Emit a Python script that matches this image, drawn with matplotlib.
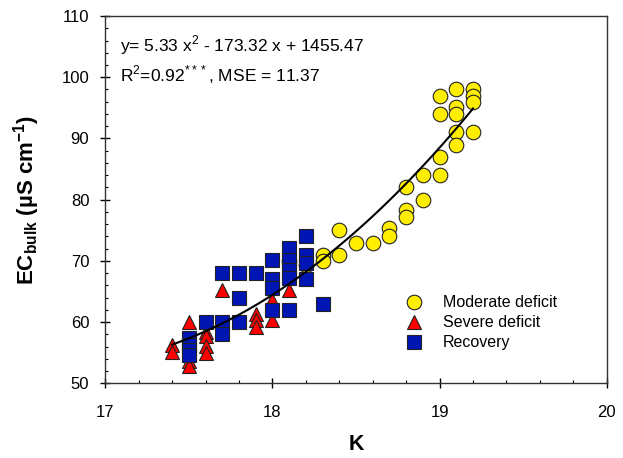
import numpy as np
import matplotlib
matplotlib.use("Agg")
import matplotlib.pyplot as plt
from matplotlib.ticker import MultipleLocator

plt.rcParams['font.family'] = ['Liberation Sans', 'DejaVu Sans']
plt.rcParams['mathtext.fontset'] = 'custom'
plt.rcParams['mathtext.rm'] = 'Liberation Sans'
plt.rcParams['mathtext.bf'] = 'Liberation Sans:bold'

# moderate deficit (yellow circles)
mod_k = [18.1, 18.2, 18.3, 18.3, 18.4, 18.4, 18.5, 18.6, 18.7, 18.7,
         18.8, 18.8, 18.8, 18.9, 18.9, 19.0, 19.0, 19.0, 19.0,
         19.1, 19.1, 19.1, 19.1, 19.1, 19.2, 19.2, 19.2, 19.2]
mod_ec = [70, 69.3, 71, 70, 75, 71, 73, 73, 75.3, 74,
          82, 78.3, 77.1, 84, 80, 97, 94, 87, 84,
          98, 95.2, 94, 91, 89, 98, 97, 96, 91]

# severe deficit (red triangles)
sev_k = [17.4, 17.4, 17.5, 17.5, 17.5, 17.6, 17.6, 17.6, 17.6, 17.7,
         17.9, 17.9, 17.9, 18.0, 18.0, 18.0, 18.1]
sev_ec = [56.3, 55.2, 60, 53.6, 52.8, 58.4, 57.8, 56.1, 55, 65.2,
          61.4, 60.3, 59.2, 63.6, 62, 60.3, 65.2]

# recovery (blue squares)
rec_k = [17.5, 17.5, 17.5, 17.5, 17.6, 17.7, 17.7, 17.7, 17.8, 17.8, 17.8,
         17.9, 18.0, 18.0, 18.0, 18.0, 18.1, 18.1, 18.1, 18.1, 18.1,
         18.2, 18.2, 18.2, 18.2, 18.3]
rec_ec = [57.4, 56.3, 55.4, 54.6, 60, 68, 60, 58, 68, 64, 60,
          68, 70.2, 67, 65.5, 62, 72.1, 70.1, 68.5, 67.2, 62,
          74, 71, 69.6, 67, 63]

all_k = np.array(mod_k + sev_k + rec_k)
all_ec = np.array(mod_ec + sev_ec + rec_ec)
coef = np.polyfit(all_k, all_ec, 2)
xfit = np.linspace(17.4, 19.2, 100)

fig = plt.figure(figsize=(6.23, 4.58), dpi=100)
ax = fig.add_axes([0.169, 0.163, 0.805, 0.802])

ms = 10.5
ax.plot(mod_k, mod_ec, 'o', ms=ms, mfc='#FFEE00', mec='#222222', mew=0.8,
        label='Moderate deficit', zorder=3)
ax.plot(sev_k, sev_ec, '^', ms=ms, mfc='#FF0000', mec='#222222', mew=0.8,
        label='Severe deficit', zorder=4)
ax.plot(rec_k, rec_ec, 's', ms=ms - 0.5, mfc='#0016B4', mec='#222222', mew=0.8,
        label='Recovery', zorder=5)
ax.plot(xfit, np.polyval(coef, xfit), color='black', lw=1.5, zorder=6)

ax.set_xlim(17, 20)
ax.set_ylim(50, 110)
ax.xaxis.set_major_locator(MultipleLocator(1))
ax.xaxis.set_minor_locator(MultipleLocator(0.2))
ax.yaxis.set_major_locator(MultipleLocator(10))
ax.yaxis.set_minor_locator(MultipleLocator(2))
ax.tick_params(which='major', direction='inout', length=7, width=1, labelsize=12, pad=8)
ax.tick_params(axis='x', which='major', pad=12)
ax.tick_params(which='minor', direction='in', length=2.5, width=0.8)
ax.tick_params(top=False, right=False, which='both')
for s in ax.spines.values():
    s.set_linewidth(1)
    s.set_color('#333333')

ax.set_xlabel('K', fontsize=15.5, fontweight='bold', labelpad=10)
ax.set_ylabel(r'EC$_{\mathbf{bulk}}$ (µS cm$^{\mathbf{-1}}$)', fontsize=16,
              fontweight='bold', labelpad=14)

ax.text(0.03, 0.92, r'y= 5.33 x$^2$ - 173.32 x + 1455.47', transform=ax.transAxes,
        fontsize=12.5, va='center')
ax.text(0.03, 0.84, r'R$^2$=0.92$^{***}$, MSE = 11.37', transform=ax.transAxes,
        fontsize=12.5, va='center')

ax.legend(loc='center left', bbox_to_anchor=(0.568, 0.165), frameon=False,
          fontsize=11.5, handletextpad=0.8, labelspacing=0.32, numpoints=1,
          borderpad=0)

fig.savefig('out.png', dpi=100)
